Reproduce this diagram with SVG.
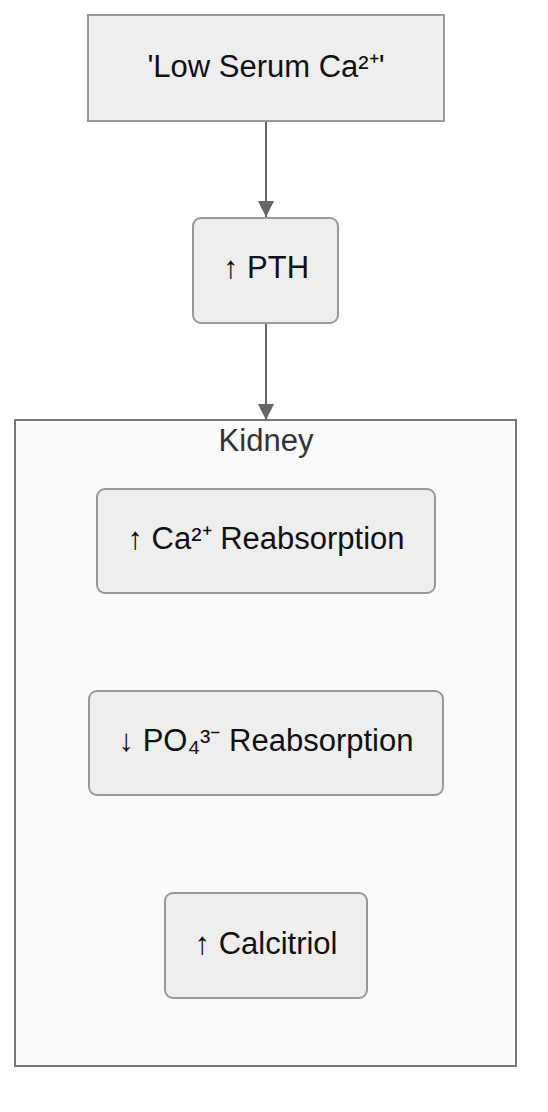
<svg xmlns="http://www.w3.org/2000/svg" width="548" height="1112" viewBox="0 0 548 1112">
<style>
.node rect{fill:#eeeeee;stroke:#999999;stroke-width:2}
.lbl{font-family:"Liberation Sans",Arial,sans-serif;font-size:31px;fill:#111111;text-anchor:middle;dominant-baseline:central}
.cl{fill:#fafafa;stroke:#777777;stroke-width:2}
.cltxt{font-family:"Liberation Sans",Arial,sans-serif;font-size:31px;fill:#333333;text-anchor:middle;dominant-baseline:central}
.edge{stroke:#666666;stroke-width:2;fill:none}
</style>
<defs>
<marker id="ah" viewBox="0 0 16 16" refX="16" refY="8" markerWidth="16" markerHeight="16" markerUnits="userSpaceOnUse" orient="auto">
<path d="M0,0 L16,8 L0,16 z" fill="#666666"/>
</marker>
</defs>
<g id="cluster-kidney">
<rect class="cl" x="15" y="420" width="501" height="646"/>
<text class="cltxt" x="266" y="440">Kidney</text>
</g>
<g id="edges">
<line class="edge" x1="266" y1="121" x2="266" y2="217" marker-end="url(#ah)"/>
<line class="edge" x1="266" y1="323" x2="266" y2="420" marker-end="url(#ah)"/>
</g>
<g id="n-low" class="node">
<rect x="88" y="15" width="356" height="106"/>
<text class="lbl" x="266" y="66">'Low Serum Ca²⁺'</text>
</g>
<g id="n-pth" class="node">
<rect x="193" y="218" width="145" height="105" rx="8"/>
<text class="lbl" x="266" y="267">↑ PTH</text>
</g>
<g id="n-ca" class="node">
<rect x="97" y="489" width="338" height="104" rx="8"/>
<text class="lbl" x="266" y="538">↑ Ca²⁺ Reabsorption</text>
</g>
<g id="n-po" class="node">
<rect x="89" y="691" width="354" height="104" rx="8"/>
<text class="lbl" x="266" y="740">↓ PO₄³⁻ Reabsorption</text>
</g>
<g id="n-calc" class="node">
<rect x="165" y="893" width="202" height="105" rx="8"/>
<text class="lbl" x="266" y="943">↑ Calcitriol</text>
</g>
</svg>
